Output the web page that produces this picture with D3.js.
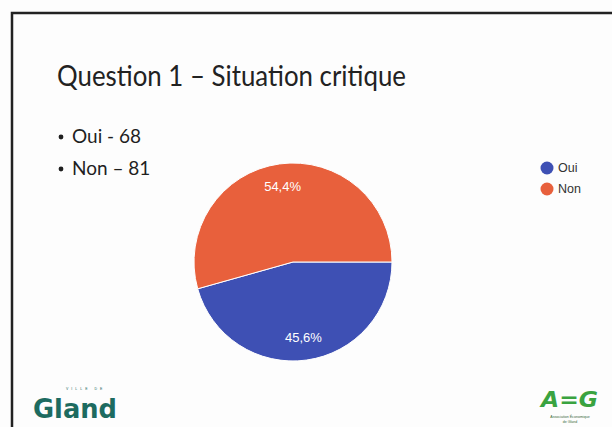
<!DOCTYPE html>
<html><head><meta charset="utf-8">
<script src="https://cdn.jsdelivr.net/npm/d3@7/dist/d3.min.js"></script>
<style>html,body{margin:0;padding:0;background:#fff;overflow:hidden}</style>
</head><body>
<script>
const categories = ["Oui", "Non"];
const values = [68, 81];
const percentLabels = ["45,6%", "54,4%"];
const colors = ["#3e50b4", "#e8603c"];
const bullets = ["Oui - 68", "Non \u2013 81"];
const title = "Question 1 \u2013 Situation critique";

const W = 612, H = 427;
const svg = d3.select("body").append("svg").attr("width", W).attr("height", H);
svg.append("rect").attr("width", W).attr("height", H).attr("fill", "#fdfdfd");
// slide border
svg.append("path").attr("d", `M12,${H+5} L12,13 L${W+5},13`).attr("fill", "none").attr("stroke", "#222").attr("stroke-width", 2.5);

svg.append("text").attr("x", 57).attr("y", 86).attr("font-family", "Lato, 'Open Sans', sans-serif")
  .attr("font-size", 28.5).attr("fill", "#222")
  .attr("textLength", 349).attr("lengthAdjust", "spacingAndGlyphs").text(title);

bullets.forEach((b, i) => {
  const y = 143 + i * 32;
  svg.append("circle").attr("cx", 61).attr("cy", y - 6).attr("r", 2.4).attr("fill", "#1f1f1f");
  svg.append("text").attr("x", 72).attr("y", y).attr("font-family", "Lato, 'Open Sans', sans-serif")
    .attr("font-size", 19).attr("fill", "#1f1f1f").text(b);
});

// pie
const cx = 293, cy = 262, r = 99;
const pie = d3.pie().sort(null).startAngle(Math.PI / 2).endAngle(Math.PI / 2 + 2 * Math.PI);
const arcs = pie(values);
const arc = d3.arc().innerRadius(0).outerRadius(r);
const g = svg.append("g").attr("transform", `translate(${cx},${cy})`);
g.selectAll("path").data(arcs).join("path").attr("d", arc)
  .attr("fill", (d, i) => colors[i]).attr("stroke", "#fff").attr("stroke-width", 1);
const labelArc = d3.arc().innerRadius(r * 0.77).outerRadius(r * 0.77);
g.selectAll("text.lbl").data(arcs).join("text").attr("class", "lbl")
  .attr("transform", d => `translate(${labelArc.centroid(d)})`)
  .attr("text-anchor", "middle").attr("dy", "0.35em")
  .attr("font-family", "Arial, 'Liberation Sans', sans-serif").attr("font-size", 13)
  .attr("fill", "#fff").text((d, i) => percentLabels[i]);

// legend
categories.forEach((c, i) => {
  const y = 168 + i * 21;
  svg.append("circle").attr("cx", 547).attr("cy", y).attr("r", 6.5).attr("fill", colors[i]);
  svg.append("text").attr("x", 558).attr("y", y).attr("dy", "0.35em")
    .attr("font-family", "Arial, 'Liberation Sans', sans-serif").attr("font-size", 12.5)
    .attr("fill", "#333").text(c);
});

// logos (as text)
svg.append("text").attr("x", 33).attr("y", 418).attr("font-family", "'DejaVu Sans', sans-serif")
  .attr("font-weight", "bold").attr("font-size", 26).attr("fill", "#1d6b60")
  .attr("textLength", 84).attr("lengthAdjust", "spacingAndGlyphs").text("Gland");
svg.append("text").attr("x", 66).attr("y", 390).attr("font-family", "Arial, sans-serif")
  .attr("font-size", 3.5).attr("fill", "#1d6b60").attr("letter-spacing", 3).text("VILLE DE");
svg.append("text").attr("x", 541).attr("y", 407).attr("font-family", "'DejaVu Sans', sans-serif")
  .attr("font-weight", "bold").attr("font-style", "italic").attr("font-size", 22).attr("fill", "#3aa340")
  .attr("textLength", 57).attr("lengthAdjust", "spacingAndGlyphs").text("A=G");
svg.append("text").attr("x", 570).attr("y", 417.5).attr("text-anchor", "middle").attr("font-family", "Arial, sans-serif")
  .attr("font-size", 3.6).attr("fill", "#3a6a3a").text("Association Économique");
svg.append("text").attr("x", 570).attr("y", 423).attr("text-anchor", "middle").attr("font-family", "Arial, sans-serif")
  .attr("font-size", 3.6).attr("fill", "#3a6a3a").text("de Gland");
</script>
</body></html>
